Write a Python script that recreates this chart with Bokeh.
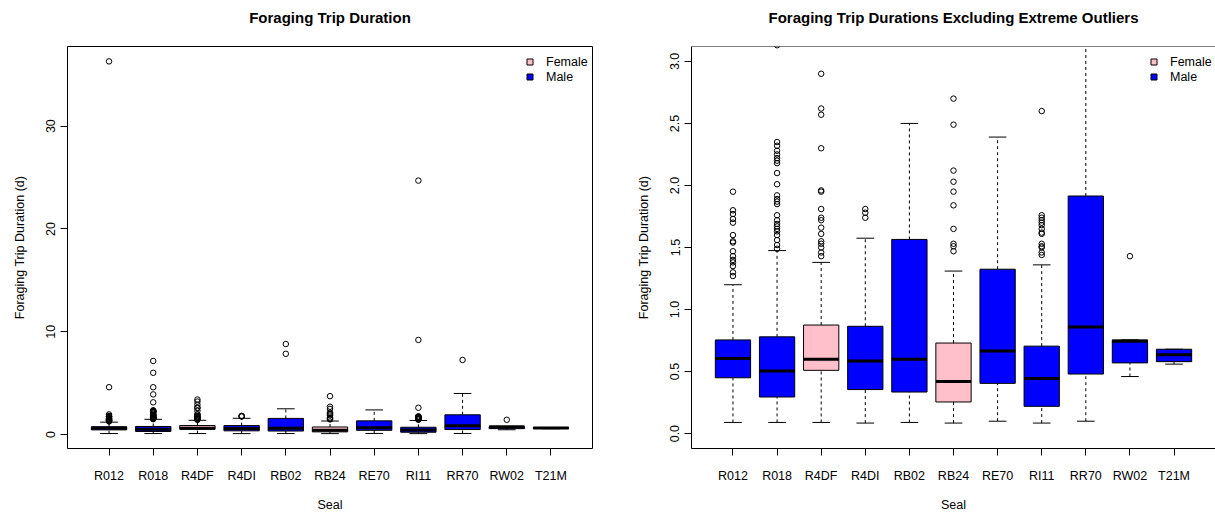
from bokeh.plotting import figure
from bokeh.models import (ColumnDataSource, Range1d, FactorRange, FixedTicker, Span,
                          PrintfTickFormatter, Legend, LegendItem)
from bokeh.transform import dodge
from bokeh.layouts import row
from bokeh.embed import file_html
from bokeh.resources import INLINE

# ---------------- data ----------------
seals = ["R012", "R018", "R4DF", "R4DI", "RB02", "RB24", "RE70", "RI11", "RR70", "RW02", "T21M"]
sex = ["Male", "Male", "Female", "Male", "Male", "Female", "Male", "Male", "Male", "Male", "Male"]

whisker_low = [0.09, 0.09, 0.09, 0.085, 0.09, 0.085, 0.10, 0.085, 0.10, 0.46, 0.56]
q1 = [0.45, 0.295, 0.51, 0.355, 0.335, 0.255, 0.405, 0.22, 0.48, 0.57, 0.58]
median = [0.605, 0.505, 0.60, 0.585, 0.60, 0.42, 0.665, 0.445, 0.86, 0.745, 0.635]
q3 = [0.755, 0.78, 0.875, 0.865, 1.565, 0.73, 1.325, 0.705, 1.915, 0.755, 0.68]
whisker_high = [1.20, 1.475, 1.38, 1.575, 2.50, 1.31, 2.39, 1.36, 3.99, 0.755, 0.68]

out_R012 = [1.27, 1.30, 1.35, 1.38, 1.40, 1.43, 1.47, 1.54, 1.55, 1.60, 1.70, 1.73, 1.77, 1.80, 1.95, 4.6, 36.3]
out_R018 = [1.49, 1.52, 1.56, 1.60, 1.63, 1.65, 1.67, 1.69, 1.72, 1.76, 1.85, 1.87, 1.89, 1.92,
            2.01, 2.10, 2.18, 2.20, 2.22, 2.25, 2.28, 2.32, 2.35, 3.13, 3.9, 4.6, 6.0, 7.15]
out_R4DF = [1.43, 1.46, 1.50, 1.53, 1.55, 1.61, 1.66, 1.72, 1.74, 1.81, 1.95, 1.96, 2.30, 2.57, 2.62, 2.90, 3.2, 3.4]
out_R4DI = [1.74, 1.78, 1.81]
out_RB02 = [7.85, 8.8]
out_RB24 = [1.47, 1.51, 1.53, 1.65, 1.84, 1.95, 2.03, 2.12, 2.49, 2.70, 3.73]
out_RE70 = []
out_RI11 = [1.44, 1.46, 1.50, 1.51, 1.53, 1.61, 1.62, 1.65, 1.68, 1.70, 1.72, 1.74, 1.76, 2.60, 9.2, 24.7]
out_RR70 = [7.25]
out_RW02 = [1.43]
out_T21M = []

legend_labels = ["Female", "Male"]
sex_colors = {"Female": "#FFC0CB", "Male": "#0000FF"}

left_ticks = [0, 10, 20, 30]
right_ticks = [0.0, 0.5, 1.0, 1.5, 2.0, 2.5, 3.0]
right_ylim = (0.0, 3.0)

# ---------------- sources ----------------
outlier_lists = [out_R012, out_R018, out_R4DF, out_R4DI, out_RB02, out_RB24,
                 out_RE70, out_RI11, out_RR70, out_RW02, out_T21M]

box_src = ColumnDataSource(dict(
    seal=seals, lo=whisker_low, q1=q1, med=median, q3=q3, hi=whisker_high,
    color=[sex_colors[s] for s in sex]))

ox, oy = [], []
for s, lst in zip(seals, outlier_lists):
    for v in lst:
        ox.append(s)
        oy.append(v)
out_src = ColumnDataSource(dict(seal=ox, val=oy))

all_vals = whisker_low + oy
dmin, dmax = min(all_vals), max(all_vals)
pad = 0.04 * (dmax - dmin)
left_ylim = (dmin - pad, dmax + pad)
rpad = 0.04 * (right_ylim[1] - right_ylim[0])

FONT = "Liberation Sans"
FS = "12.5px"


def make_panel(title, ylim, ticks, fmt, width, mleft, mright, full_outline):
    p = figure(x_range=FactorRange(factors=seals, range_padding=0.44, range_padding_units="absolute"),
               y_range=Range1d(*ylim), width=width, height=514,
               min_border_left=mleft, min_border_right=mright,
               min_border_top=46, min_border_bottom=66,
               output_backend="svg", toolbar_location=None, title=title)
    p.grid.visible = False
    p.background_fill_color = "white"
    p.border_fill_color = "white"
    if full_outline:
        p.outline_line_color = "black"
        p.outline_line_width = 1
        p.outline_line_alpha = 1
    else:
        p.outline_line_color = None

    p.title.align = "center"
    p.title.text_font = FONT
    p.title.text_font_size = "15px"
    p.title.text_font_style = "bold"
    p.title.text_color = "black"
    p.title.standoff = 0
    p.title.padding = dict(left=0, right=0, top=0, bottom=21)

    # whiskers
    p.segment(x0="seal", y0="q3", x1="seal", y1="hi", source=box_src,
              line_color="black", line_width=1, line_dash="3 3")
    p.segment(x0="seal", y0="lo", x1="seal", y1="q1", source=box_src,
              line_color="black", line_width=1, line_dash="3 3")
    # staples
    for col in ("hi", "lo"):
        p.segment(x0=dodge("seal", -0.2, range=p.x_range), y0=col,
                  x1=dodge("seal", 0.2, range=p.x_range), y1=col,
                  source=box_src, line_color="black", line_width=1)
    # boxes
    p.vbar(x="seal", bottom="q1", top="q3", width=0.8, source=box_src,
           fill_color="color", line_color="black", line_width=1)
    # medians
    p.segment(x0=dodge("seal", -0.4, range=p.x_range), y0="med",
              x1=dodge("seal", 0.4, range=p.x_range), y1="med",
              source=box_src, line_color="black", line_width=3, line_cap="butt")
    # outliers
    p.scatter(x="seal", y="val", source=out_src, marker="circle", size=5.5,
              fill_color=None, line_color="black", line_width=1)

    # legend (legend-only renderers: one hidden NaN point each)
    items = []
    for lab in legend_labels:
        r = p.scatter(x=[seals[0]], y=[float("nan")], marker="square",
                      fill_color=sex_colors[lab], line_color="black", line_width=1)
        items.append(LegendItem(label=lab, renderers=[r]))
    leg = Legend(items=items,
                 location=(455, 364), glyph_width=15, glyph_height=15, label_height=15,
                 spacing=0, padding=0, margin=0, label_standoff=9,
                 border_line_color=None, background_fill_alpha=0,
                 label_text_font=FONT, label_text_font_size=FS, label_text_color="black")
    p.add_layout(leg)

    # axes
    for ax in (p.xaxis[0], p.yaxis[0]):
        ax.major_tick_out = 7
        ax.major_tick_in = 0
        ax.minor_tick_line_color = None
        ax.major_tick_line_color = "black"
        ax.axis_line_color = None if full_outline else "black"
        ax.major_label_text_font = FONT
        ax.major_label_text_font_size = FS
        ax.major_label_text_color = "black"
        ax.axis_label_text_font = FONT
        ax.axis_label_text_font_size = FS
        ax.axis_label_text_font_style = "normal"
        ax.axis_label_text_color = "black"

    p.xaxis.axis_label = "Seal"
    p.xaxis.major_label_standoff = 13
    p.xaxis.axis_label_standoff = 12

    p.yaxis.axis_label = "Foraging Trip Duration (d)"
    p.yaxis.ticker = FixedTicker(ticks=ticks)
    p.yaxis.formatter = PrintfTickFormatter(format=fmt)
    p.yaxis.major_label_orientation = "vertical"
    p.yaxis.major_label_standoff = 5
    p.yaxis.axis_label_standoff = 17

    if not full_outline:
        # top border of the panel (its right border lies just outside the page)
        p.add_layout(Span(location=ylim[1], dimension="width", line_color="black", line_width=1))
    return p


p1 = make_panel("Foraging Trip Duration", left_ylim, left_ticks, "%d",
                620, 67, 28, True)
p2 = make_panel("Foraging Trip Durations Excluding Extreme Outliers",
                (right_ylim[0] - rpad, right_ylim[1] + rpad), right_ticks, "%.1f",
                595, 71, 0, False)

layout = row(p1, p2)
open("out.html", "w").write(file_html(layout, INLINE))
